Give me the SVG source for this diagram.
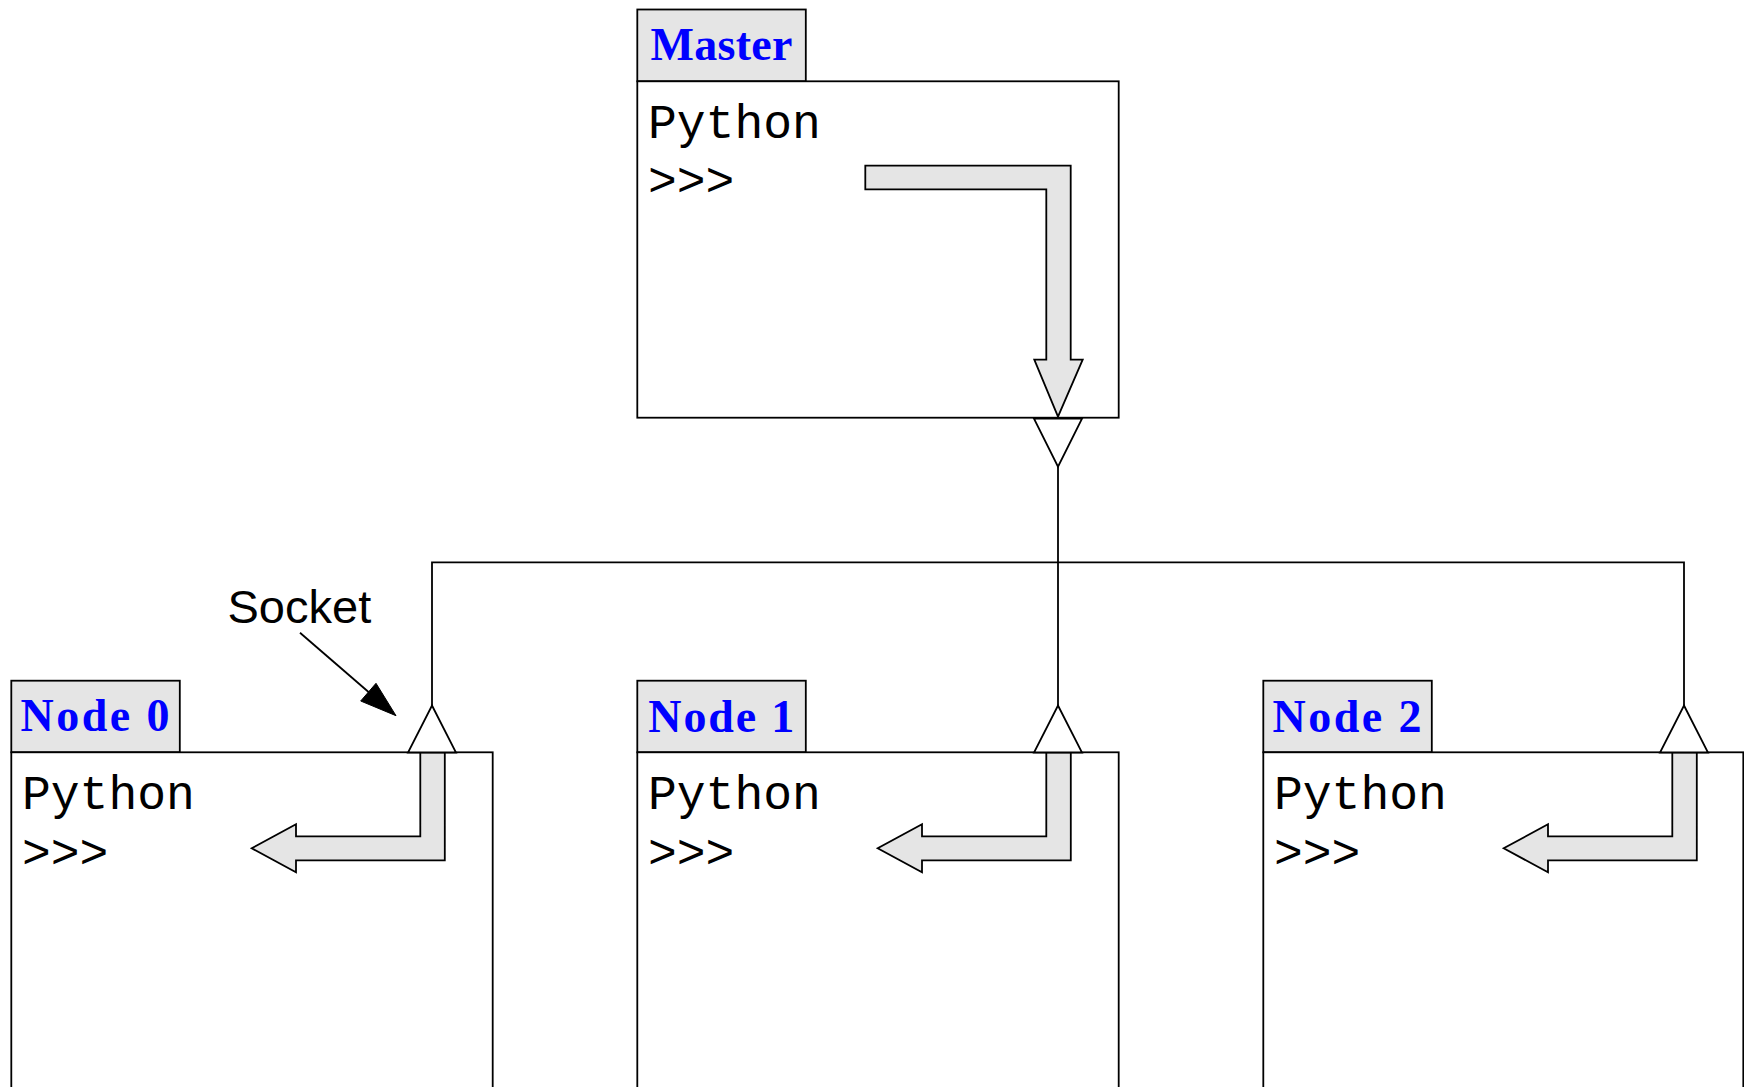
<svg xmlns="http://www.w3.org/2000/svg" width="1744" height="1087" viewBox="0 0 1744 1087">
  <style>
    .tab { fill: #e5e5e5; stroke: #000; stroke-width: 1.8; }
    .box { fill: #fff; stroke: #000; stroke-width: 1.8; }
    .flow { fill: #e5e5e5; stroke: #000; stroke-width: 1.8; stroke-linejoin: miter; }
    .sock { fill: #fff; stroke: #000; stroke-width: 1.8; stroke-linejoin: miter; }
    .wire { fill: none; stroke: #000; stroke-width: 1.8; }
    .title { font-family: "Liberation Serif", "Times New Roman", serif; font-weight: bold; font-size: 46px; fill: #0000ff; }
    .code { font-family: "Liberation Mono", "Courier New", monospace; font-size: 48px; fill: #000; }
    .note { font-family: "Liberation Sans", Arial, sans-serif; font-size: 47px; fill: #000; }
  </style>
  <defs>
    <!-- incoming command arrow drawn inside each worker pane -->
    <polygon id="recv" class="flow" points="409,0 433.5,0 433.5,108 284.7,108 284.7,120 240.4,96 284.7,72 284.7,84 409,84"/>
    <!-- socket triangle pointing up, apex at origin -->
    <polygon id="sockUp" class="sock" points="0,0 24,47 -24,47"/>
  </defs>

  <rect width="1744" height="1087" fill="#fff"/>

  <!-- bus wiring between the master and the workers -->
  <g id="connectors">
    <polyline class="wire" points="1058,466.7 1058,706"/>
    <polyline class="wire" points="432,706 432,562.3 1684,562.3 1684,706"/>
    <!-- label pointer -->
    <line class="wire" x1="300" y1="632.7" x2="372" y2="695"/>
    <polygon points="396,715.7 360.7,701 376,683.3" fill="#000" stroke="#000" stroke-width="1"/>
  </g>

  <!-- master interpreter -->
  <g id="master">
    <rect class="tab" x="637.3" y="9.5" width="168.5" height="71.8"/>
    <rect class="box" x="637.3" y="81.3" width="481.4" height="336.4"/>
    <text class="title" x="650.5" y="60" textLength="142" lengthAdjust="spacing">Master</text>
    <text class="code" x="648" y="138">Python</text>
    <text class="code" x="648" y="196">&gt;&gt;&gt;</text>
    <polygon class="flow" points="865.3,165.7 1070.7,165.7 1070.7,359.7 1082.7,359.7 1058,416.7 1034.3,359.7 1046.3,359.7 1046.3,189.3 865.3,189.3"/>
    <polygon class="sock" points="1034,418.7 1082,418.7 1058,466.7"/>
  </g>

  <!-- worker 0 -->
  <g id="node0">
    <rect class="tab" x="11.3" y="680.7" width="168.5" height="71.6"/>
    <rect class="box" x="11.3" y="752.3" width="481.4" height="400"/>
    <text class="title" x="20.5" y="731" textLength="149" lengthAdjust="spacing">Node 0</text>
    <text class="code" x="22" y="809">Python</text>
    <text class="code" x="22" y="868">&gt;&gt;&gt;</text>
    <use href="#recv" x="11.3" y="752.3"/>
    <use href="#sockUp" x="432" y="705.5"/>
  </g>

  <!-- worker 1 -->
  <g id="node1">
    <rect class="tab" x="637.3" y="680.7" width="168.5" height="71.6"/>
    <rect class="box" x="637.3" y="752.3" width="481.4" height="400"/>
    <text class="title" x="648.3" y="731.5" textLength="146" lengthAdjust="spacing">Node 1</text>
    <text class="code" x="648" y="809">Python</text>
    <text class="code" x="648" y="868">&gt;&gt;&gt;</text>
    <use href="#recv" x="637.3" y="752.3"/>
    <use href="#sockUp" x="1058" y="705.5"/>
  </g>

  <!-- worker 2 -->
  <g id="node2">
    <rect class="tab" x="1263.3" y="680.7" width="168.5" height="71.6"/>
    <rect class="box" x="1263.3" y="752.3" width="480" height="400"/>
    <text class="title" x="1272.5" y="731.5" textLength="149" lengthAdjust="spacing">Node 2</text>
    <text class="code" x="1274" y="809">Python</text>
    <text class="code" x="1274" y="868">&gt;&gt;&gt;</text>
    <use href="#recv" x="1263.3" y="752.3"/>
    <use href="#sockUp" x="1684" y="705.5"/>
  </g>

  <text id="socket-label" class="note" x="227.5" y="623.3">Socket</text>
</svg>
